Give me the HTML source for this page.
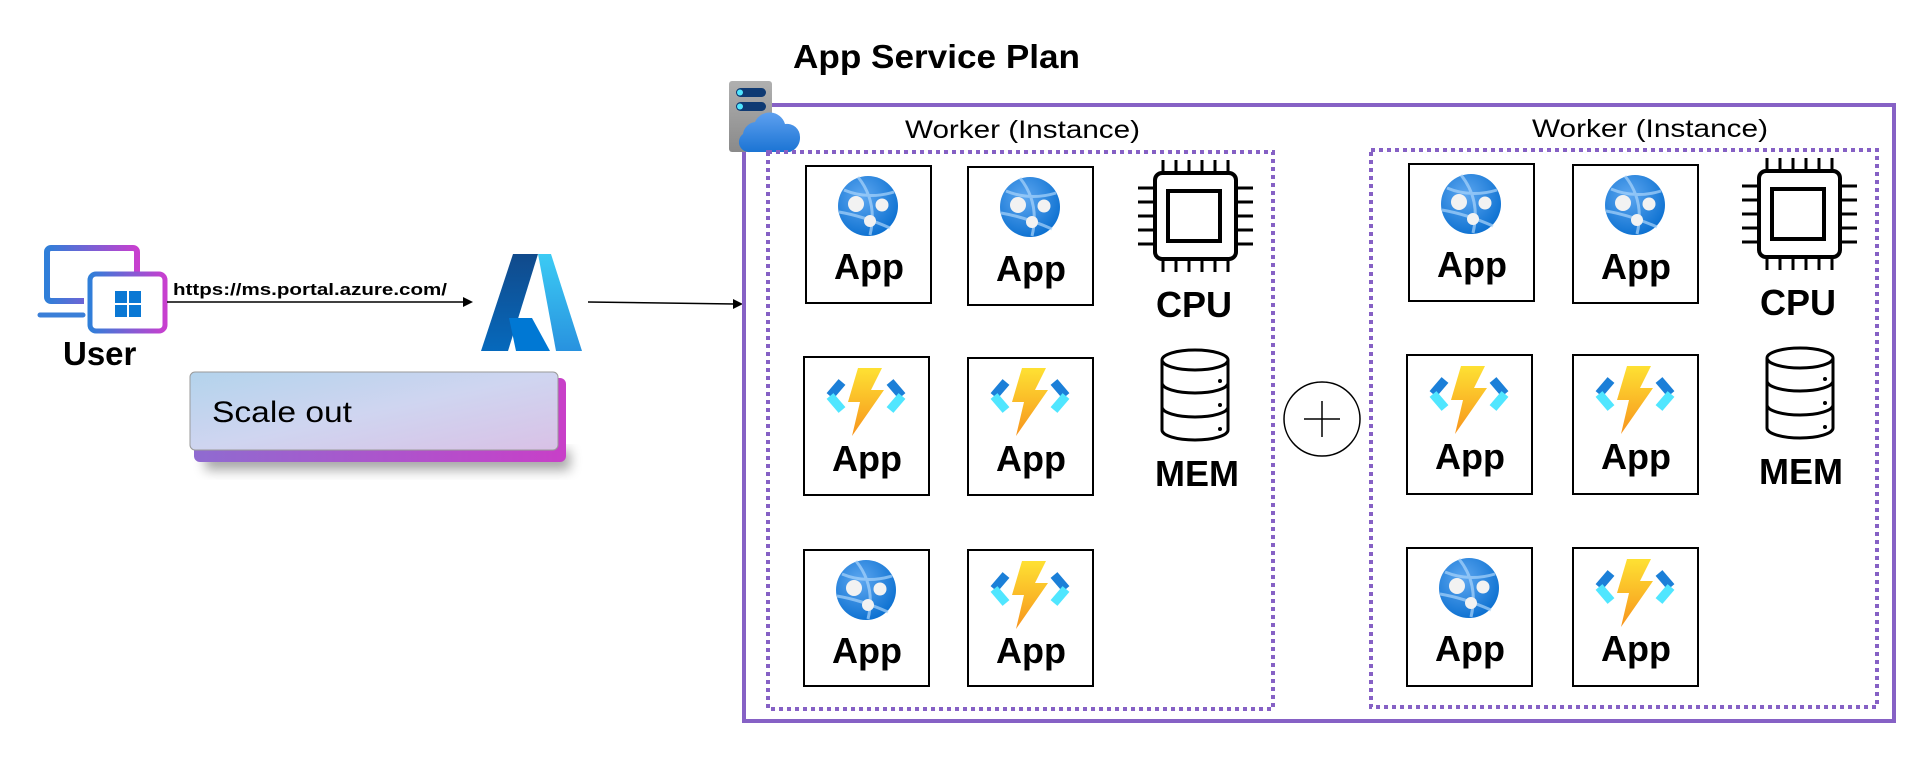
<!DOCTYPE html>
<html><head><meta charset="utf-8"><style>
html,body{margin:0;padding:0;background:#fff;width:1914px;height:777px;overflow:hidden}
svg{display:block}
text{font-family:"Liberation Sans",sans-serif;fill:#000}
</style></head><body>
<svg width="1914" height="777" viewBox="0 0 1914 777" xmlns="http://www.w3.org/2000/svg">
<defs>
<linearGradient id="ug" x1="0" y1="0" x2="1" y2="0"><stop offset="0" stop-color="#2f7fd9"/><stop offset="1" stop-color="#c83fcf"/></linearGradient>
<linearGradient id="so" x1="0" y1="0" x2="1" y2="1"><stop offset="0" stop-color="#b3d3ec"/><stop offset="0.5" stop-color="#cfd5f0"/><stop offset="1" stop-color="#d9c1e6"/></linearGradient>
<linearGradient id="sb" x1="0" y1="0" x2="1" y2="0"><stop offset="0" stop-color="#8f6bd0"/><stop offset="1" stop-color="#c83fc8"/></linearGradient>
<linearGradient id="az1" x1="0" y1="0" x2="0" y2="1"><stop offset="0" stop-color="#114a8b"/><stop offset="1" stop-color="#0669bc"/></linearGradient>
<linearGradient id="az2" x1="0" y1="0" x2="0" y2="1"><stop offset="0" stop-color="#3ccbf4"/><stop offset="1" stop-color="#2892df"/></linearGradient>
<radialGradient id="wg" cx="0.4" cy="0.35" r="0.7"><stop offset="0" stop-color="#5ea7f0"/><stop offset="1" stop-color="#0a6fd0"/></radialGradient>
<linearGradient id="lg" x1="0" y1="0" x2="0" y2="1"><stop offset="0" stop-color="#fee133"/><stop offset="1" stop-color="#f7941d"/></linearGradient>
<linearGradient id="cl" x1="0" y1="0" x2="0" y2="1"><stop offset="0" stop-color="#5ea0ef"/><stop offset="1" stop-color="#1b74d4"/></linearGradient>
<linearGradient id="sv" x1="0" y1="0" x2="0" y2="1"><stop offset="0" stop-color="#b0b0b0"/><stop offset="1" stop-color="#8a8a8a"/></linearGradient>
<filter id="sh" x="-10%" y="-30%" width="120%" height="180%"><feGaussianBlur stdDeviation="6"/></filter>
<g id="web">
<circle r="30" fill="url(#wg)"/>
<path d="M-24,-16 Q0,-6 26,-14 M-10,-29 Q10,-4 2,29 M-29,6 Q-5,10 22,22" stroke="#a9d4fb" stroke-width="3" fill="none" opacity="0.7"/>
<circle cx="-12" cy="-2" r="8" fill="#f2f2f2"/><circle cx="14" cy="-1" r="6.5" fill="#f2f2f2"/><circle cx="2" cy="15" r="6" fill="#f2f2f2"/>
</g>
<g id="fn">
<path d="M-24,-20 L-36,-6" stroke="#1b7fd8" stroke-width="9" fill="none"/><path d="M-36,-6 L-24,8" stroke="#50e6ff" stroke-width="9" fill="none"/>
<path d="M24,-20 L36,-6" stroke="#1b7fd8" stroke-width="9" fill="none"/><path d="M36,-6 L24,8" stroke="#50e6ff" stroke-width="9" fill="none"/>
<polygon points="-8,-34 16,-34 5,-12 18,-12 -14,34 -6,0 -18,0" fill="url(#lg)"/>
</g>
<g id="cpu" fill="none" stroke="#000" stroke-width="3">
<rect x="17" y="13" width="81" height="86" rx="7" stroke-width="4"/>
<rect x="30" y="31" width="52" height="50" stroke-width="4"/>
<path d="M25,0v13M38,0v13M51,0v13M64,0v13M77,0v13M90,0v13 M25,99v13M38,99v13M51,99v13M64,99v13M77,99v13M90,99v13 M0,28h17M0,42h17M0,56h17M0,70h17M0,84h17 M98,28h17M98,42h17M98,56h17M98,70h17M98,84h17"/>
</g>
<g id="mem" fill="#fff" stroke="#000" stroke-width="3">
<path d="M0,10 V80 A33,10 0 0 0 66,80 V10"/>
<ellipse cx="33" cy="10" rx="33" ry="10"/>
<path d="M0,33 A33,10 0 0 0 66,33 M0,57 A33,10 0 0 0 66,57" fill="none"/>
<circle cx="58" cy="31" r="2" fill="#000" stroke="none"/><circle cx="58" cy="55" r="2" fill="#000" stroke="none"/><circle cx="58" cy="79" r="2" fill="#000" stroke="none"/>
</g>
</defs>

<!-- User -->
<path d="M84,301 H51 a4,4 0 0 1 -4,-4 V252 a4,4 0 0 1 4,-4 H133 a4,4 0 0 1 4,4 V273" stroke="url(#ug)" stroke-width="6" fill="none"/>
<line x1="40" y1="315" x2="83" y2="315" stroke="#3a7fd8" stroke-width="5" stroke-linecap="round"/>
<rect x="90" y="274" width="75" height="57" rx="6" fill="#fff" stroke="url(#ug)" stroke-width="5"/>
<rect x="115" y="291" width="12" height="12" fill="#0a78d4"/><rect x="129" y="291" width="12" height="12" fill="#0a78d4"/>
<rect x="115" y="305" width="12" height="12" fill="#0a78d4"/><rect x="129" y="305" width="12" height="12" fill="#0a78d4"/>
<text x="63" y="365" font-size="33" font-weight="bold">User</text>

<text x="173" y="295" font-size="17" font-weight="bold" textLength="274" lengthAdjust="spacingAndGlyphs">https://ms.portal.azure.com/</text>
<line x1="167" y1="302" x2="466" y2="302" stroke="#000" stroke-width="1.5"/>
<polygon points="473,302 463,297 463,307" fill="#000"/>

<!-- Azure logo -->
<polygon points="513,254 538,254 508,351 481,351" fill="url(#az1)"/>
<polygon points="538,254 551,254 582,351 556,351" fill="url(#az2)"/>
<polygon points="509,318 532,318 550,351 516,351" fill="#0078d4"/>

<line x1="588" y1="302" x2="735" y2="304" stroke="#000" stroke-width="1.5"/>
<polygon points="743,304 733,299 733,309" fill="#000"/>

<!-- Scale out -->
<rect x="205" y="450" width="365" height="20" fill="#000" opacity="0.35" filter="url(#sh)"/>
<rect x="194" y="378" width="372" height="84" rx="6" fill="url(#sb)"/>
<rect x="190" y="372" width="368" height="78" rx="5" fill="url(#so)" stroke="#9a9a9a" stroke-width="1"/>
<text x="212" y="422" font-size="30" textLength="140" lengthAdjust="spacingAndGlyphs">Scale out</text>

<!-- Plan -->
<text x="793" y="68" font-size="33" font-weight="bold" textLength="287" lengthAdjust="spacingAndGlyphs">App Service Plan</text>
<rect x="744" y="105" width="1150" height="616" fill="none" stroke="#8661c5" stroke-width="4"/>
<rect x="729" y="81" width="43" height="71" rx="3" fill="url(#sv)"/>
<rect x="736" y="88" width="30" height="9" rx="4.5" fill="#0f3a73"/><circle cx="740" cy="92.5" r="3" fill="#50e6ff"/>
<rect x="736" y="102" width="30" height="9" rx="4.5" fill="#0f3a73"/><circle cx="740" cy="106.5" r="3" fill="#50e6ff"/>
<path d="M750,152 a10,10 0 0 1 -7,-18 a14,14 0 0 1 12,-12 a16,16 0 0 1 30,2 a13,13 0 0 1 15,13 a15,15 0 0 1 -10,15 z" fill="url(#cl)"/>

<rect x="768" y="152" width="505" height="557" fill="none" stroke="#8661c5" stroke-width="4" stroke-dasharray="4 4"/>
<rect x="1371" y="150" width="506" height="557" fill="none" stroke="#8661c5" stroke-width="4" stroke-dasharray="4 4"/>
<text x="905" y="138" font-size="25" textLength="235" lengthAdjust="spacingAndGlyphs">Worker (Instance)</text>
<text x="1532" y="137" font-size="25" textLength="236" lengthAdjust="spacingAndGlyphs">Worker (Instance)</text>

<ellipse cx="1322" cy="419" rx="38" ry="37" fill="#fff" stroke="#000" stroke-width="1.5"/>
<path d="M1322,401 V437 M1304,419 H1340" stroke="#000" stroke-width="1.5"/>

<g fill="#fff" stroke="#000" stroke-width="2">
<rect x="806" y="166" width="125" height="137"/><rect x="968" y="167" width="125" height="138"/>
<rect x="804" y="357" width="125" height="138"/><rect x="968" y="358" width="125" height="137"/>
<rect x="804" y="550" width="125" height="136"/><rect x="968" y="550" width="125" height="136"/>
<rect x="1409" y="164" width="125" height="137"/><rect x="1573" y="165" width="125" height="138"/>
<rect x="1407" y="355" width="125" height="139"/><rect x="1573" y="355" width="125" height="139"/>
<rect x="1407" y="548" width="125" height="138"/><rect x="1573" y="548" width="125" height="138"/>
</g>
<use href="#web" x="868" y="206"/><use href="#web" x="1030" y="207"/>
<use href="#fn" x="866" y="402"/><use href="#fn" x="1030" y="402"/>
<use href="#web" x="866" y="590"/><use href="#fn" x="1030" y="595"/>
<use href="#web" x="1471" y="204"/><use href="#web" x="1635" y="205"/>
<use href="#fn" x="1469" y="400"/><use href="#fn" x="1635" y="400"/>
<use href="#web" x="1469" y="588"/><use href="#fn" x="1635" y="593"/>
<g font-size="36" font-weight="bold" text-anchor="middle">
<text x="869" y="279">App</text><text x="1031" y="281">App</text>
<text x="867" y="471">App</text><text x="1031" y="471">App</text>
<text x="867" y="663">App</text><text x="1031" y="663">App</text>
<text x="1472" y="277">App</text><text x="1636" y="279">App</text>
<text x="1470" y="469">App</text><text x="1636" y="469">App</text>
<text x="1470" y="661">App</text><text x="1636" y="661">App</text>
<text x="1194" y="317">CPU</text><text x="1197" y="486">MEM</text>
<text x="1798" y="315">CPU</text><text x="1801" y="484">MEM</text>
</g>
<use href="#cpu" x="1138" y="160"/><use href="#cpu" x="1742" y="158"/>
<use href="#mem" x="1162" y="350"/><use href="#mem" x="1767" y="348"/>
</svg>
</body></html>
